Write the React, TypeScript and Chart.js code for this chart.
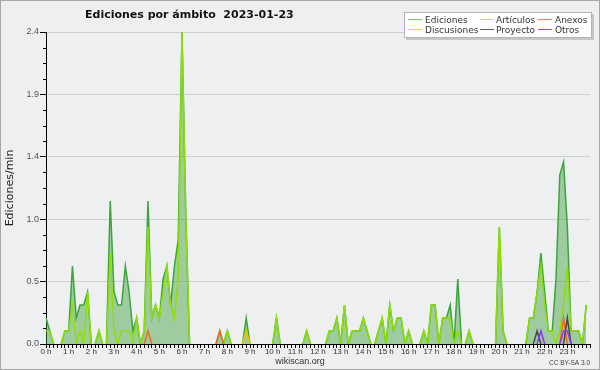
import { useEffect, useRef } from 'react';
import { Chart, registerables } from 'chart.js';

Chart.register(...registerables);

const TITLE = 'Ediciones por ámbito  2023-01-23';
const Y_TITLE = 'Ediciones/min';
const FOOTER_LEFT = 'wikiscan.org';
const FOOTER_RIGHT = 'CC BY-SA 3.0';

const HOUR_LABELS = ['0 h', '1 h', '2 h', '3 h', '4 h', '5 h', '6 h', '7 h', '8 h', '9 h', '10 h', '11 h',
  '12 h', '13 h', '14 h', '15 h', '16 h', '17 h', '18 h', '19 h', '20 h', '21 h', '22 h', '23 h'];
const Y_TICK_LABELS = ['0.0', '0.5', '1.0', '1.4', '1.9', '2.4'];
const Y_MAX = 2.4;
const Y_MINOR_STEP = 0.12;
const SLOTS_PER_HOUR = 6;
const SLOT_COUNT = 144;

// one value per 10 minutes, one row per hour
const ediciones = [
  0.2, 0.1, 0, 0, 0, 0.1,
  0.1, 0.6, 0.2, 0.3, 0.3, 0.4,
  0, 0, 0.1, 0, 0, 1.1,
  0.4, 0.3, 0.3, 0.6, 0.4, 0.1,
  0.2, 0, 0.1, 1.1, 0.2, 0.3,
  0.2, 0.5, 0.6, 0.3, 0.6, 0.8,
  2.4, 1.0, 0, 0, 0, 0,
  0, 0, 0, 0, 0.1, 0,
  0.1, 0, 0, 0, 0, 0.2,
  0, 0, 0, 0, 0, 0,
  0, 0.2, 0, 0, 0, 0,
  0, 0, 0, 0.1, 0, 0,
  0, 0, 0, 0.1, 0.1, 0.2,
  0, 0.3, 0, 0.1, 0.1, 0.1,
  0.2, 0.1, 0, 0, 0.1, 0.2,
  0, 0.3, 0.1, 0.2, 0.2, 0,
  0.1, 0, 0, 0, 0.1, 0,
  0.3, 0.3, 0, 0.2, 0.2, 0.3,
  0, 0.5, 0, 0, 0.1, 0,
  0, 0, 0, 0, 0, 0,
  0.9, 0.1, 0, 0, 0, 0,
  0, 0, 0.2, 0.2, 0.4, 0.7,
  0.4, 0.1, 0.1, 0.5, 1.3, 1.4,
  0.9, 0.1, 0.1, 0.1, 0, 0.3,
];

const articulos = [
  0.1, 0.1, 0, 0, 0, 0.1,
  0.1, 0.3, 0, 0.1, 0, 0.4,
  0, 0, 0.1, 0, 0, 0.7,
  0.1, 0, 0.1, 0.1, 0.1, 0,
  0.2, 0, 0.1, 0.9, 0.2, 0.3,
  0.2, 0.4, 0.6, 0.3, 0.2, 0.5,
  2.4, 1.0, 0, 0, 0, 0,
  0, 0, 0, 0, 0, 0,
  0.1, 0, 0, 0, 0, 0.1,
  0, 0, 0, 0, 0, 0,
  0, 0.2, 0, 0, 0, 0,
  0, 0, 0, 0.1, 0, 0,
  0, 0, 0, 0.1, 0.1, 0.2,
  0, 0.3, 0, 0.1, 0.1, 0.1,
  0.2, 0.1, 0, 0, 0.1, 0.2,
  0, 0.3, 0.1, 0.2, 0.2, 0,
  0.1, 0, 0, 0, 0.1, 0,
  0.3, 0.3, 0, 0.2, 0.2, 0.2,
  0, 0.1, 0, 0, 0.1, 0,
  0, 0, 0, 0, 0, 0,
  0.9, 0.1, 0, 0, 0, 0,
  0, 0, 0.2, 0.2, 0.4, 0.6,
  0.3, 0.1, 0.1, 0, 0.1, 0.3,
  0.6, 0.1, 0.1, 0.1, 0, 0.3,
];

// sparse series: [slot index, value]
const anexos: [number, number][] = [[27, 0.1], [46, 0.1], [137, 0.2]];
const discusiones: [number, number][] = [[53, 0.1]];
const proyecto: [number, number][] = [[130, 0.1], [138, 0.2]];
const otros: [number, number][] = [[131, 0.1], [137, 0.1], [138, 0.1]];

const SERIES_NAMES = ['Ediciones', 'Artículos', 'Anexos', 'Discusiones', 'Proyecto', 'Otros'];
const SERIES_COLORS = ['#3aa53a', '#8ee000', '#f06a20', '#f0c400', '#484848', '#9433ff'];
const LEGEND_COLORS = ['#6fd06f', '#c4ee30', '#ff7d40', '#ffd030', '#5a5a5a', '#a040ff'];
const FILL_COLOR = 'rgba(60,160,60,0.45)';
const BG = '#eeeff1';

function dense(values: number[]) {
  return values.map((v, i) => ({ x: i, y: v }));
}
function sparse(points: [number, number][]) {
  const out: { x: number; y: number }[] = [];
  for (let i = 0; i < SLOT_COUNT; i++) out.push({ x: i, y: 0 });
  points.forEach(([i, v]) => { out[i].y = v; });
  return out;
}

const decorPlugin = {
  id: 'decor',
  beforeDraw(chart: any) {
    const { ctx, width, height } = chart;
    ctx.save();
    ctx.fillStyle = BG;
    ctx.fillRect(0, 0, width, height);
    ctx.restore();
  },
  afterDatasetsDraw(chart: any) {
    const { ctx, chartArea } = chart;
    const yScale = chart.scales.y;
    ctx.save();
    ctx.strokeStyle = '#000';
    ctx.lineWidth = 1;
    const by = Math.round(chartArea.bottom) + 0.5;
    ctx.beginPath();
    ctx.moveTo(chartArea.left, by);
    ctx.lineTo(chartArea.right, by);
    ctx.stroke();
    // minor y ticks
    const n = Math.round(Y_MAX / Y_MINOR_STEP);
    for (let k = 0; k <= n; k++) {
      if (k % 4 === 0) continue;
      const y = Math.round(yScale.getPixelForValue(k * Y_MINOR_STEP)) + 0.5;
      ctx.beginPath();
      ctx.moveTo(chartArea.left - 3, y);
      ctx.lineTo(chartArea.left, y);
      ctx.stroke();
    }
    ctx.restore();
  },
  afterDraw(chart: any) {
    const { ctx, width, height } = chart;
    ctx.save();
    // title
    ctx.fillStyle = '#111';
    ctx.font = 'bold 11px "DejaVu Sans"';
    ctx.textAlign = 'left';
    ctx.textBaseline = 'alphabetic';
    ctx.fillText(TITLE, 85, 18);

    // legend box
    ctx.fillStyle = '#c6c6c6';
    ctx.fillRect(406, 14, 188, 26);
    ctx.fillStyle = '#ffffff';
    ctx.fillRect(404, 12, 188, 26);
    ctx.strokeStyle = '#b4b4b4';
    ctx.lineWidth = 1;
    ctx.strokeRect(404.5, 12.5, 187, 25);
    const lineX = [408, 480, 538];
    const textX = [425, 496, 555];
    const rowY = [19.5, 29.5];
    const textY = [23, 33];
    ctx.font = '9px "DejaVu Sans"';
    chart.data.datasets.forEach((ds: any, i: number) => {
      const col = i % 3;
      const row = Math.floor(i / 3);
      ctx.strokeStyle = LEGEND_COLORS[i];
      ctx.beginPath();
      ctx.moveTo(lineX[col], rowY[row]);
      ctx.lineTo(lineX[col] + 14, rowY[row]);
      ctx.stroke();
      ctx.fillStyle = '#333';
      ctx.fillText(ds.label, textX[col], textY[row]);
    });

    // footer
    ctx.fillStyle = '#333';
    ctx.font = '9px "Liberation Sans"';
    ctx.textAlign = 'center';
    ctx.fillText(FOOTER_LEFT, 300, 364);
    ctx.font = '6.5px "Liberation Sans"';
    ctx.textAlign = 'right';
    ctx.fillStyle = '#444';
    ctx.fillText(FOOTER_RIGHT, 590, 365);

    // frame
    ctx.strokeStyle = '#a8a8a8';
    ctx.lineWidth = 1;
    ctx.strokeRect(0.5, 0.5, width - 1, height - 1);
    ctx.restore();
  },
};

const hideFlat = (c: any) =>
  c.p0.parsed.y === 0 && c.p1.parsed.y === 0 ? 'rgba(0,0,0,0)' : undefined;

export default function App() {
  const ref = useRef<HTMLCanvasElement | null>(null);

  useEffect(() => {
    const canvas = ref.current;
    if (!canvas) return;
    const seriesData = [
      dense(ediciones),
      dense(articulos),
      sparse(anexos),
      sparse(discusiones),
      sparse(proyecto),
      sparse(otros),
    ];
    const orders = [10, 8, 4, 3, 2, 1];
    const chart = new Chart(canvas, {
      type: 'line',
      data: {
        datasets: seriesData.map((d, i) => ({
          label: SERIES_NAMES[i],
          data: d,
          borderColor: SERIES_COLORS[i],
          backgroundColor: i === 0 ? FILL_COLOR : SERIES_COLORS[i],
          fill: i === 0 ? 'origin' : false,
          borderWidth: 1.5,
          pointRadius: 0,
          pointHoverRadius: 0,
          tension: 0,
          order: orders[i],
          segment: { borderColor: hideFlat },
        })),
      },
      options: {
        responsive: false,
        animation: false,
        devicePixelRatio: 1,
        layout: { padding: { left: 0, right: 10, top: 32, bottom: 0 } },
        plugins: {
          legend: { display: false },
          title: { display: false },
          tooltip: { enabled: false },
        },
        scales: {
          x: {
            type: 'linear',
            min: 0,
            max: SLOT_COUNT,
            afterFit: (s: any) => { s.height = 26; },
            border: { display: true, color: '#000', width: 1 },
            grid: {
              drawOnChartArea: false,
              drawTicks: true,
              tickLength: 4,
              tickColor: '#000',
            },
            ticks: {
              stepSize: 1,
              autoSkip: false,
              maxRotation: 0,
              minRotation: 0,
              padding: -1,
              color: '#333',
              font: { family: 'Liberation Sans', size: 8 },
              callback: (v: any) => {
                const n = Number(v);
                return n % SLOTS_PER_HOUR === 0 && n < SLOT_COUNT ? HOUR_LABELS[n / SLOTS_PER_HOUR] : '';
              },
            },
          },
          y: {
            type: 'linear',
            min: 0,
            max: Y_MAX,
            afterFit: (s: any) => { s.width = 46; },
            border: { display: true, color: '#000', width: 1 },
            title: {
              display: true,
              text: Y_TITLE,
              color: '#222',
              font: { family: 'DejaVu Sans', size: 11 },
              padding: { top: 4, bottom: 0 },
            },
            grid: {
              drawTicks: true,
              tickLength: 6,
              color: (c: any) => (c.index % 4 === 0 && c.index > 0 ? '#cfcfcf' : 'rgba(0,0,0,0)'),
              tickColor: (c: any) => (c.index % 4 === 0 ? '#000' : 'rgba(0,0,0,0)'),
            },
            ticks: {
              stepSize: Y_MINOR_STEP,
              autoSkip: false,
              padding: 1,
              color: '#555',
              font: { family: 'Liberation Sans', size: 9 },
              callback: (_v: any, index: number) => (index % 4 === 0 ? Y_TICK_LABELS[index / 4] : ''),
            },
          },
        },
      },
      plugins: [decorPlugin],
    });
    return () => chart.destroy();
  }, []);

  return (
    <div style={{ position: 'fixed', left: 0, top: 0, width: 600, height: 370 }}>
      <canvas ref={ref} width={600} height={370} style={{ display: 'block' }} />
    </div>
  );
}
